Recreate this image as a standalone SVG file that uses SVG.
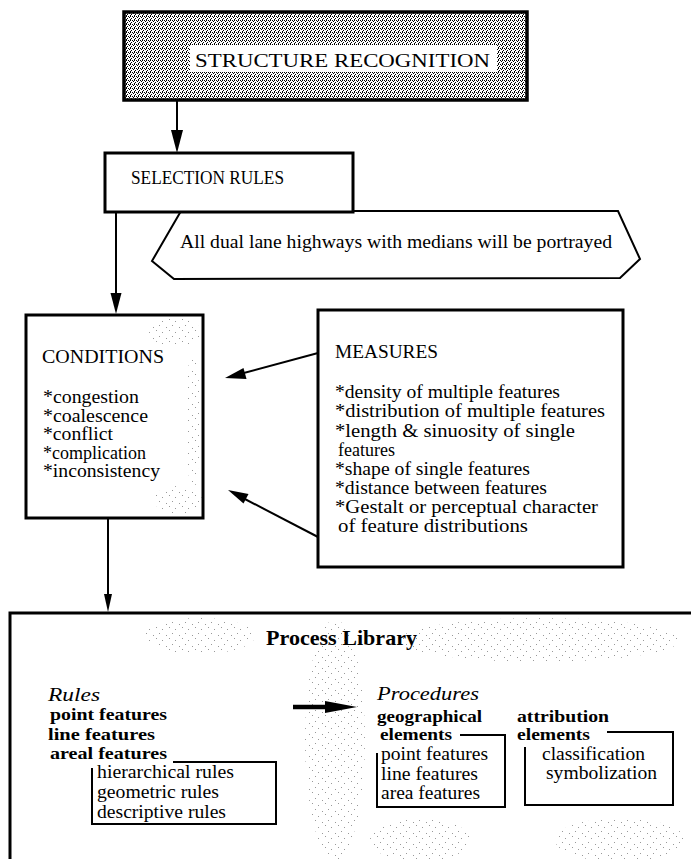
<svg xmlns="http://www.w3.org/2000/svg" width="691" height="859" viewBox="0 0 691 859">
  <defs>
    <!-- halftone screen for the title panel -->
    <pattern id="dither" width="4" height="4" patternUnits="userSpaceOnUse">
      <rect width="4" height="4" fill="#fff"/>
      <rect x="0" y="0" width="1" height="1" fill="#000"/>
      <rect x="2" y="0" width="1" height="1" fill="#000"/>
      <rect x="1" y="1" width="1" height="1" fill="#000"/>
      <rect x="3" y="2" width="1" height="1" fill="#000"/>
      <rect x="2" y="3" width="1" height="1" fill="#000"/>
    </pattern>
    <!-- light speckle -->
    <pattern id="speckle" width="13" height="11" patternUnits="userSpaceOnUse">
      <rect x="0" y="0" width="1" height="1" fill="#000"/>
      <rect x="6" y="2" width="1" height="1" fill="#000"/>
      <rect x="3" y="6" width="1" height="1" fill="#000"/>
      <rect x="10" y="8" width="1" height="1" fill="#000"/>
    </pattern>
    <style>
      .box{fill:#fff;stroke:#000;stroke-width:3}
      .bracket{fill:none;stroke:#000;stroke-width:2}
      .line{fill:none;stroke:#000;stroke-width:2}
      .head{fill:#000;stroke:none}
      .t{font-family:"Liberation Serif","Times New Roman",serif;font-size:18px;fill:#000}
      .b{font-weight:bold;font-size:17px}
      .i{font-style:italic}
      .spk{fill:url(#speckle);opacity:0.4}
    </style>
  </defs>

  <rect width="691" height="859" fill="#fff"/>

  <!-- title panel -->
  <g id="structure-recognition">
    <rect x="124" y="12" width="403" height="88" fill="url(#dither)" stroke="#000" stroke-width="3.5"/>
    <rect x="190" y="45" width="307" height="27" fill="#fff"/>
    <text class="t" x="195" y="67" font-size="24" textLength="295" lengthAdjust="spacingAndGlyphs">STRUCTURE RECOGNITION</text>
  </g>

  <!-- example rule callout -->
  <g id="rule-example">
    <path d="M181,211 L618,211 L640,259 L620,278 L174,279 L152,261 Z" fill="#fff" stroke="#000" stroke-width="2"/>
    <text class="t" x="180" y="248" textLength="432" lengthAdjust="spacingAndGlyphs">All dual lane highways with medians will be portrayed</text>
  </g>

  <g id="selection-rules">
    <rect class="box" x="105" y="153" width="248" height="59"/>
    <text class="t" x="131" y="184" font-size="17.5" textLength="153" lengthAdjust="spacingAndGlyphs">SELECTION RULES</text>
  </g>

  <g id="conditions">
    <rect class="box" x="26" y="315" width="177" height="203"/>
    <ellipse class="spk" cx="175" cy="332" rx="26" ry="14"/>
    <ellipse class="spk" cx="193" cy="420" rx="7" ry="70"/>
    <ellipse class="spk" cx="178" cy="500" rx="24" ry="14"/>
    <text class="t" x="42" y="363" textLength="122" lengthAdjust="spacingAndGlyphs">CONDITIONS</text>
    <text class="t" x="43" y="403" textLength="96" lengthAdjust="spacingAndGlyphs">*congestion</text>
    <text class="t" x="43" y="421.5" textLength="105" lengthAdjust="spacingAndGlyphs">*coalescence</text>
    <text class="t" x="43" y="440" textLength="70" lengthAdjust="spacingAndGlyphs">*conflict</text>
    <text class="t" x="43" y="458.5" textLength="103" lengthAdjust="spacingAndGlyphs">*complication</text>
    <text class="t" x="43" y="477" textLength="117" lengthAdjust="spacingAndGlyphs">*inconsistency</text>
  </g>

  <g id="measures">
    <rect class="box" x="318" y="310" width="305" height="257"/>
    <text class="t" x="335" y="358" textLength="103" lengthAdjust="spacingAndGlyphs">MEASURES</text>
    <text class="t" x="335" y="398" textLength="225" lengthAdjust="spacingAndGlyphs">*density of multiple features</text>
    <text class="t" x="335" y="417" textLength="270" lengthAdjust="spacingAndGlyphs">*distribution of multiple features</text>
    <text class="t" x="335" y="437" textLength="240" lengthAdjust="spacingAndGlyphs">*length &amp; sinuosity of single</text>
    <text class="t" x="338" y="456">features</text>
    <text class="t" x="335" y="475" textLength="195" lengthAdjust="spacingAndGlyphs">*shape of single features</text>
    <text class="t" x="335" y="494" textLength="212" lengthAdjust="spacingAndGlyphs">*distance between features</text>
    <text class="t" x="335" y="513" textLength="263" lengthAdjust="spacingAndGlyphs">*Gestalt or perceptual character</text>
    <text class="t" x="338" y="532" textLength="190" lengthAdjust="spacingAndGlyphs">of feature distributions</text>
  </g>

  <g id="process-library">
    <rect class="box" x="10" y="613" width="690" height="260"/>
    <ellipse class="spk" cx="200" cy="636" rx="55" ry="18"/>
    <ellipse class="spk" cx="335" cy="740" rx="30" ry="120"/>
    <ellipse class="spk" cx="540" cy="640" rx="140" ry="22"/>
    <ellipse class="spk" cx="420" cy="840" rx="50" ry="22"/>
    <ellipse class="spk" cx="620" cy="840" rx="65" ry="22"/>
    <text class="t b" x="266" y="645" font-size="22" style="font-size:22px" textLength="151" lengthAdjust="spacingAndGlyphs">Process Library</text>

    <g id="rules">
      <text class="t i" x="48" y="701" font-size="22" textLength="52" lengthAdjust="spacingAndGlyphs">Rules</text>
      <text class="t b" x="50" y="720" textLength="117" lengthAdjust="spacingAndGlyphs">point features</text>
      <text class="t b" x="48" y="740" textLength="107" lengthAdjust="spacingAndGlyphs">line features</text>
      <text class="t b" x="50" y="759" textLength="117" lengthAdjust="spacingAndGlyphs">areal features</text>
      <path class="bracket" d="M173,762 H276 V824 H92 V768"/>
      <text class="t" x="97" y="778" textLength="137" lengthAdjust="spacingAndGlyphs">hierarchical rules</text>
      <text class="t" x="97" y="798" textLength="122" lengthAdjust="spacingAndGlyphs">geometric rules</text>
      <text class="t" x="97" y="818" textLength="129" lengthAdjust="spacingAndGlyphs">descriptive rules</text>
    </g>

    <g id="procedures">
      <text class="t i" x="377" y="700" font-size="22" textLength="102" lengthAdjust="spacingAndGlyphs">Procedures</text>
      <text class="t b" x="377" y="722" textLength="105" lengthAdjust="spacingAndGlyphs">geographical</text>
      <text class="t b" x="380" y="740" textLength="72" lengthAdjust="spacingAndGlyphs">elements</text>
      <path class="bracket" d="M460,735 H505 V807 H377 V753"/>
      <text class="t" x="381" y="760" textLength="107" lengthAdjust="spacingAndGlyphs">point features</text>
      <text class="t" x="381" y="780" textLength="97" lengthAdjust="spacingAndGlyphs">line features</text>
      <text class="t" x="381" y="799" textLength="99" lengthAdjust="spacingAndGlyphs">area features</text>

      <text class="t b" x="517" y="722" textLength="92" lengthAdjust="spacingAndGlyphs">attribution</text>
      <text class="t b" x="517" y="740" textLength="73" lengthAdjust="spacingAndGlyphs">elements</text>
      <path class="bracket" d="M607,732 H673 V805 H525 V747"/>
      <text class="t" x="542" y="760" textLength="103" lengthAdjust="spacingAndGlyphs">classification</text>
      <text class="t" x="546" y="779" textLength="111" lengthAdjust="spacingAndGlyphs">symbolization</text>
    </g>
  </g>

  <g id="connectors">
    <!-- title to selection rules -->
    <line class="line" x1="177" y1="100" x2="177" y2="135"/>
    <path class="head" d="M171,130 L183,130 L177,153 Z"/>
    <!-- selection rules to conditions -->
    <line class="line" x1="116" y1="213" x2="116" y2="296"/>
    <path class="head" d="M110.5,293 L121.5,293 L116,314 Z"/>
    <!-- measures to conditions (upper) -->
    <line class="line" x1="318" y1="353" x2="240" y2="374"/>
    <path class="head" d="M225,378 L243.5,368 L246.5,379 Z"/>
    <!-- measures to conditions (lower) -->
    <line class="line" x1="318" y1="537" x2="243" y2="498"/>
    <path class="head" d="M228,490 L248.5,494 L243.5,503.5 Z"/>
    <!-- conditions to process library -->
    <line class="line" x1="108" y1="518" x2="108" y2="598"/>
    <path class="head" d="M104,594 L112,594 L108,612 Z"/>
    <!-- rules to procedures -->
    <line x1="293" y1="707" x2="330" y2="707" stroke="#000" stroke-width="4.5"/>
    <path class="head" d="M325,701 L357,707 L325,713 Z"/>
  </g>
</svg>
